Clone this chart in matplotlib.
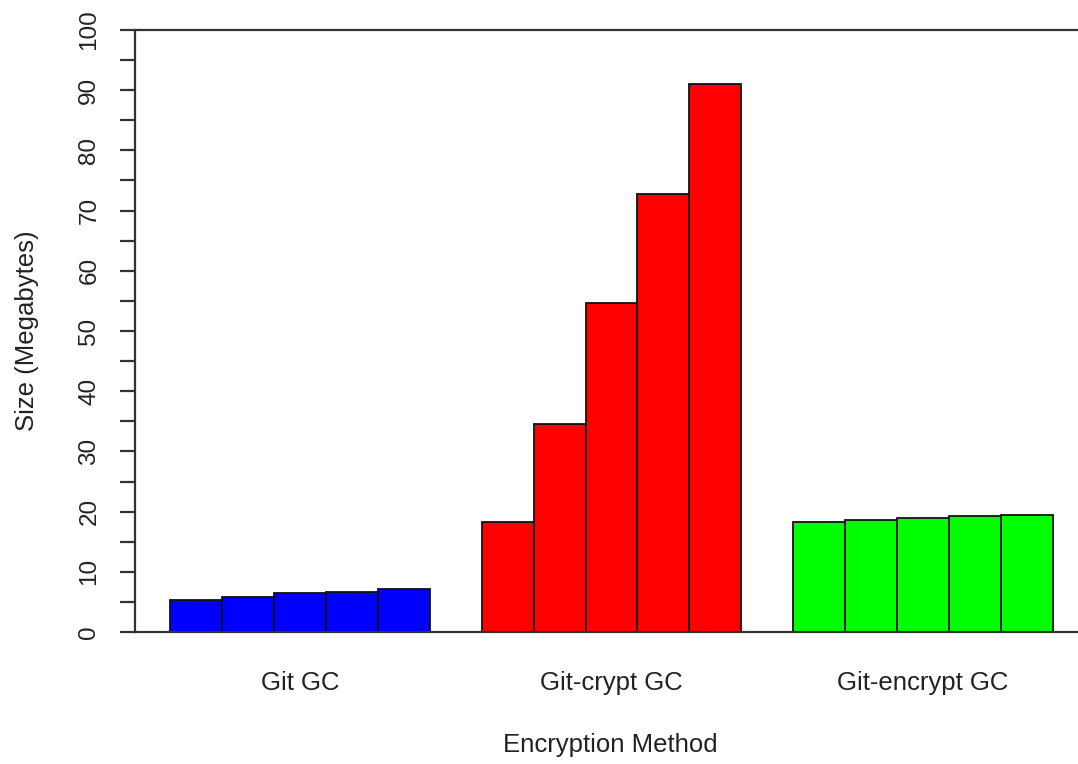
import numpy as np
import matplotlib
matplotlib.use("Agg")
import matplotlib.pyplot as plt

plt.rcParams['font.family'] = ['Liberation Sans', 'DejaVu Sans']

# data
methods = ['Git GC', 'Git-crypt GC', 'Git-encrypt GC']
git_gc = [5.3, 5.8, 6.4, 6.6, 7.2]
git_crypt_gc = [18.3, 34.5, 54.7, 72.7, 91.1]
git_encrypt_gc = [18.3, 18.6, 18.9, 19.2, 19.4]
colors = ['#0000ff', '#ff0000', '#00ff00']
y_ticks = np.arange(0, 101, 5)
y_labels = np.arange(0, 101, 10)

groups = [git_gc, git_crypt_gc, git_encrypt_gc]

W, H = 1078, 764
fig = plt.figure(figsize=(W / 100, H / 100), dpi=100)
# plot region in pixels: left 135, right ~1088 (cropped), top 30, bottom 632
left, right, top, bottom = 135, 1088, 30, 632
ax = fig.add_axes([left / W, 1 - bottom / H, (right - left) / W, (bottom - top) / H])

text_col = '#222222'
line_col = '#333333'
fs = 18.5

# R barplot style: bars of width 1, one empty slot before each group
centers = []
x0 = 1
for vals, col in zip(groups, colors):
    xs = x0 + np.arange(len(vals))
    ax.bar(xs, vals, width=1, align='edge', color=col,
           edgecolor='#111111', linewidth=1.3, zorder=2)
    centers.append(x0 + len(vals) / 2)
    x0 += len(vals) + 1

x_end = x0 - 1  # right edge of the last bar
span = x_end - 1
ax.set_xlim(1 - 0.04 * span, x_end + 0.04 * span)
ax.set_ylim(0, 100)

for s in ['left', 'top', 'bottom']:
    ax.spines[s].set_color(line_col)
    ax.spines[s].set_linewidth(1.6)
ax.spines['right'].set_visible(False)

ax.set_yticks(y_ticks)
ax.set_yticklabels([str(v) if v in y_labels else '' for v in y_ticks],
                   rotation=90, va='center')
ax.tick_params(axis='y', length=11, width=1.6, color=line_col,
               labelsize=fs - 1, labelcolor=text_col, pad=14)

ax.set_xticks(centers)
ax.set_xticklabels(methods)
ax.tick_params(axis='x', length=0, labelsize=fs, labelcolor=text_col, pad=28)

ax.set_xlabel('Encryption Method', fontsize=fs, color=text_col)
ax.xaxis.set_label_coords((610 - left) / (right - left), -(745 - bottom) / (bottom - top))
ax.xaxis.label.set_va('center')
ax.set_ylabel('Size (Megabytes)', fontsize=fs, color=text_col)
ax.yaxis.set_label_coords((27 - left) / (right - left), 0.5)
ax.yaxis.label.set_va('center')

fig.savefig('out.png', dpi=100)
